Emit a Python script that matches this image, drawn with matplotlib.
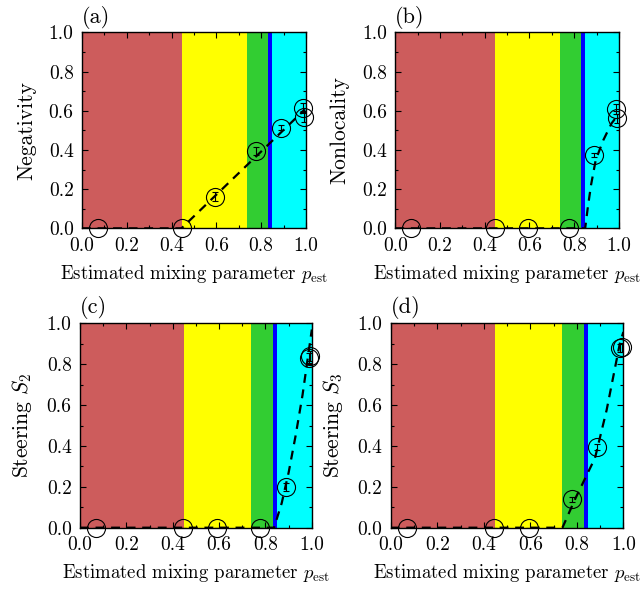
import numpy as np
import matplotlib
matplotlib.use('Agg')
import matplotlib.pyplot as plt
from matplotlib.ticker import MultipleLocator, FormatStrFormatter

plt.rcParams['font.family'] = 'serif'
plt.rcParams['font.serif'] = ['cmr10', 'DejaVu Serif']
plt.rcParams['mathtext.fontset'] = 'cm'
plt.rcParams['axes.formatter.use_mathtext'] = True

# region boundaries along p_est
bounds = [0.0, 0.448, 0.738, 0.831, 0.848, 1.0]
band_colors = ['indianred', 'yellow', 'limegreen', 'blue', 'cyan']

# measured points (p_est, value)
p_est = [0.07, 0.445, 0.593, 0.778, 0.887, 0.987, 0.992]
negativity = [0.0, 0.0, 0.162, 0.395, 0.514, 0.614, 0.570]
nonlocality = [0.0, 0.0, 0.0, 0.0, 0.374, 0.609, 0.561]
steering2 = [0.0, 0.0, 0.0, 0.0, 0.200, 0.829, 0.840]
steering3 = [0.0, 0.0, 0.0, 0.140, 0.397, 0.878, 0.882]
yerr_neg = [0.0, 0.0, 0.025, 0.02, 0.012, 0.025, 0.025]
yerr_non = [0.0, 0.0, 0.0, 0.0, 0.012, 0.025, 0.025]
yerr_s2 = [0.0, 0.0, 0.0, 0.0, 0.02, 0.025, 0.025]
yerr_s3 = [0.0, 0.0, 0.0, 0.012, 0.015, 0.02, 0.02]

# theory curves (vertices)
neg_th_x = [0.0, 0.444, 0.995]
neg_th_y = [0.0, 0.0, 0.607]
non_th_x = [0.0, 0.849, 0.86, 0.875, 0.896, 0.93, 0.967, 0.99]
non_th_y = [0.0, 0.0, 0.10, 0.22, 0.348, 0.45, 0.536, 0.57]
s2_th_x = [0.0, 0.837, 0.87, 0.9, 0.93, 0.96, 1.0]
s2_th_y = [0.0, 0.0, 0.12, 0.27, 0.45, 0.65, 0.97]
s3_th_x = [0.0, 0.738, 0.794, 0.878, 0.928, 0.985, 1.0]
s3_th_y = [0.0, 0.0, 0.144, 0.341, 0.576, 0.903, 0.958]

panels = [
    ('(a)', 'Negativity', negativity, yerr_neg, neg_th_x, neg_th_y, [0.1273, 0.613, 0.3478, 0.332]),
    ('(b)', 'Nonlocality', nonlocality, yerr_non, non_th_x, non_th_y, [0.6138, 0.613, 0.3473, 0.332]),
    ('(c)', r'Steering $S_2$', steering2, yerr_s2, s2_th_x, s2_th_y, [0.1242, 0.1056, 0.360, 0.3463]),
    ('(d)', r'Steering $S_3$', steering3, yerr_s3, s3_th_x, s3_th_y, [0.6067, 0.1056, 0.3613, 0.3463]),
]

fig = plt.figure(figsize=(6.44, 5.90), dpi=100)

for label, ylab, vals, yerr, tx, ty, pos in panels:
    ax = fig.add_axes(pos)
    for i in range(len(band_colors)):
        ax.axvspan(bounds[i], bounds[i + 1], color=band_colors[i], lw=0, zorder=0)
    ax.plot(tx, ty, color='k', ls='--', dashes=(4, 3), lw=1.6, zorder=2)
    ax.errorbar(p_est, vals, yerr=yerr, fmt='none', ecolor='k',
                elinewidth=0.8, capsize=2.5, capthick=0.8, zorder=3)
    ax.plot(p_est, vals, 'o', mfc='none', mec='k', ms=13, mew=0.8, zorder=4, clip_on=False)
    ax.set_xlim(0, 1)
    ax.set_ylim(0, 1)
    ax.xaxis.set_major_locator(MultipleLocator(0.2))
    ax.xaxis.set_minor_locator(MultipleLocator(0.1))
    ax.yaxis.set_major_locator(MultipleLocator(0.2))
    ax.yaxis.set_minor_locator(MultipleLocator(0.1))
    ax.xaxis.set_major_formatter(FormatStrFormatter('%.1f'))
    ax.yaxis.set_major_formatter(FormatStrFormatter('%.1f'))
    ax.tick_params(which='both', direction='in', top=True, right=True, labelsize=14)
    ax.tick_params(which='major', length=4, width=0.8, pad=6)
    ax.tick_params(which='minor', length=2.5, width=0.8)
    for s in ax.spines.values():
        s.set_linewidth(1.0)
    ax.set_xlabel(r'Estimated mixing parameter $p_{\mathrm{est}}$', fontsize=13.5, labelpad=6)
    ax.set_ylabel(ylab, fontsize=15.5, labelpad=9)
    ax.text(0.0, 1.02, label, transform=ax.transAxes, fontsize=16, ha='left', va='bottom')

fig.savefig('out.png', dpi=100)
